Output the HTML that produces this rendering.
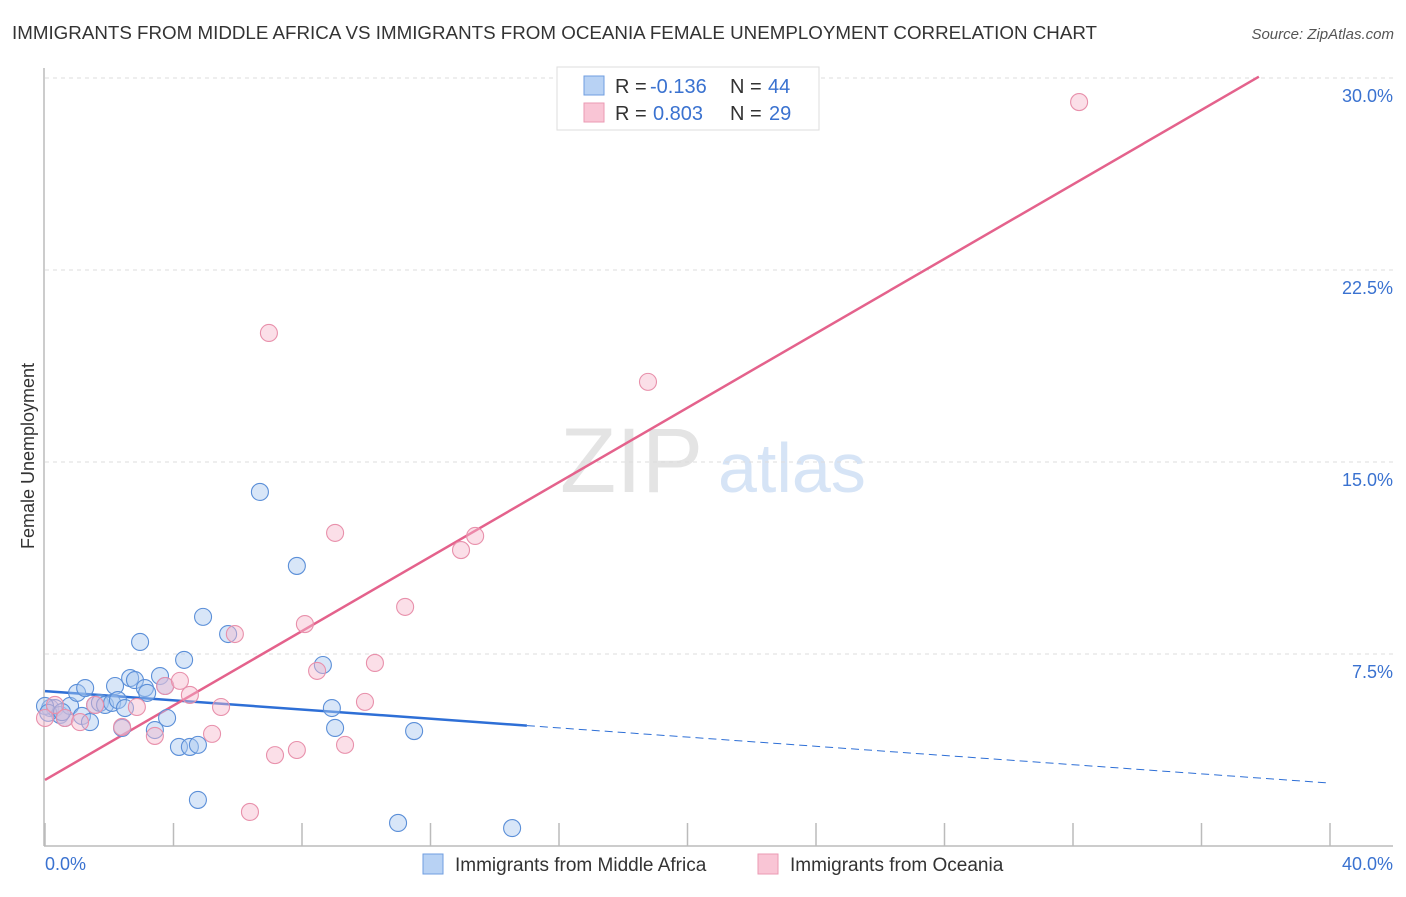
<!DOCTYPE html>
<html><head><meta charset="utf-8"><style>
body{margin:0;background:#fff;font-family:"Liberation Sans",sans-serif;}
svg text{font-family:"Liberation Sans",sans-serif;}
</style></head><body>
<svg id="chart" width="1406" height="892">
<text x="12" y="39" font-size="18" fill="#333" textLength="1085" lengthAdjust="spacingAndGlyphs">IMMIGRANTS FROM MIDDLE AFRICA VS IMMIGRANTS FROM OCEANIA FEMALE UNEMPLOYMENT CORRELATION CHART</text>
<text x="1394" y="39" font-size="15" fill="#555" font-style="italic" text-anchor="end">Source: ZipAtlas.com</text>
<text x="560" y="492" font-size="92" font-family="Liberation Serif" fill="#e4e4e4">ZIP</text>
<text x="718" y="492" font-size="70" fill="#d6e4f6">atlas</text>
<g id="grid"></g><g id="axes"></g><g id="lines"></g><g id="pts"></g>
<text transform="translate(34,456) rotate(-90)" font-size="18" fill="#333" text-anchor="middle">Female Unemployment</text>
<text x="45" y="870" font-size="18" fill="#3a72d0">0.0%</text>
<text x="1393" y="870" font-size="18" fill="#3a72d0" text-anchor="end">40.0%</text>
<g>
<rect x="557" y="67" width="262" height="63" fill="#fff" stroke="#ddd"/>
<rect x="584" y="76" width="20" height="19" fill="#b8d2f4" stroke="#6f9ee0"/>
<rect x="584" y="103" width="20" height="19" fill="#f9c5d5" stroke="#eb9ab3"/>
<text x="615" y="93" font-size="20" fill="#333">R =</text>
<text x="650" y="93" font-size="20" fill="#3a72d0">-0.136</text>
<text x="730" y="93" font-size="20" fill="#333">N =</text>
<text x="768" y="93" font-size="20" fill="#3a72d0">44</text>
<text x="615" y="120" font-size="20" fill="#333">R =</text>
<text x="653" y="120" font-size="20" fill="#3a72d0">0.803</text>
<text x="730" y="120" font-size="20" fill="#333">N =</text>
<text x="769" y="120" font-size="20" fill="#3a72d0">29</text>
</g>
<g>
<rect x="423" y="854" width="20" height="20" fill="#b8d2f4" stroke="#6f9ee0"/>
<text x="455" y="871" font-size="19" fill="#333">Immigrants from Middle Africa</text>
<rect x="758" y="854" width="20" height="20" fill="#f9c5d5" stroke="#eb9ab3"/>
<text x="790" y="871" font-size="19" fill="#333">Immigrants from Oceania</text>
</g>
</svg>
<script>
const yTicks=[7.5,15,22.5,30];
const yTickLabels=["7.5%","15.0%","22.5%","30.0%"];
const xTicks=[0,4,8,12,16,20,24,28,32,36,40];
const blueX=[0.16,0.31,0.47,0.62,0.78,1.0,1.15,1.25,1.4,1.56,1.71,1.87,2.09,2.18,2.27,2.40,2.49,2.65,2.80,2.96,3.11,3.18,3.42,3.58,3.74,3.80,4.17,4.33,4.51,4.76,4.76,4.92,5.70,6.69,7.84,8.65,8.93,9.03,10.99,11.49,14.54,0.0,0.1,0.53];
const blueY=[5.39,5.39,5.12,5.0,5.47,5.98,5.08,6.17,4.84,5.51,5.59,5.51,5.59,6.25,5.70,4.61,5.39,6.56,6.48,7.97,6.17,5.98,4.53,6.64,6.25,5.0,3.87,7.27,3.87,3.95,1.80,8.95,8.28,13.83,10.94,7.07,5.39,4.61,0.90,4.49,0.70,5.47,5.2,5.23];
const pinkX=[0,0.31,0.62,1.09,1.56,2.4,2.86,3.42,3.74,4.2,4.51,5.2,5.48,5.91,6.97,7.16,7.84,8.09,8.47,9.03,9.34,9.96,10.27,11.21,12.95,13.39,18.77,32.19,6.38];
const pinkY=[5.0,5.51,5.0,4.84,5.51,4.65,5.43,4.3,6.25,6.45,5.9,4.38,5.43,8.28,20.04,3.55,3.75,8.67,6.84,12.23,3.95,5.63,7.15,9.34,11.56,12.11,18.13,29.06,1.33];
const blueFit=[6.05,-0.0898];
const pinkFit=[2.58,0.727];
const X=v=>45+v*32.125, Y=v=>846-v*25.6;
const NS="http://www.w3.org/2000/svg";
function mk(parent,tag,attrs){const e=document.createElementNS(NS,tag);for(const k in attrs)e.setAttribute(k,attrs[k]);document.getElementById(parent).appendChild(e);return e;}
yTicks.forEach((t,i)=>{
 const g=mk('grid','line',{x1:45,x2:1393,y1:Y(t),y2:Y(t),stroke:'#ddd','stroke-dasharray':'4,4'});
 
 
 const l=mk('grid','text',{x:1393,y:Y(t)+24,'font-size':18,fill:'#3a72d0','text-anchor':'end'});
 l.textContent=yTickLabels[i];
 
 
});
let a=mk('axes','line',{x1:44,x2:44,y1:68,y2:846,stroke:'#bbb','stroke-width':1.5});


a=mk('axes','line',{x1:44,x2:1393,y1:846,y2:846,stroke:'#bbb','stroke-width':1.5});


xTicks.forEach(t=>{const e=mk('axes','line',{x1:X(t),x2:X(t),y1:823,y2:846,stroke:'#bbb','stroke-width':1.5});
 
 });
function dot(x,y,fill,stroke,name){const c=mk('pts','circle',{cx:X(x),cy:Y(y),r:8.5,fill:fill,'fill-opacity':0.45,stroke:stroke,'stroke-width':1.1});
 
 }
blueX.forEach((x,i)=>dot(x,blueY[i],'#a8c8f0','#5b8fd8','middle-africa-point'));
pinkX.forEach((x,i)=>dot(x,pinkY[i],'#f6b8cb','#e890ab','oceania-point'));
let l=mk('lines','line',{x1:X(0),y1:Y(blueFit[0]),x2:X(15),y2:Y(blueFit[0]+blueFit[1]*15),stroke:'#2e6fd6','stroke-width':2.5});


l=mk('lines','line',{x1:X(15),y1:Y(blueFit[0]+blueFit[1]*15),x2:X(40),y2:Y(blueFit[0]+blueFit[1]*40),stroke:'#2e6fd6','stroke-width':1,'stroke-dasharray':'8,5'});


const xe=(30.05-pinkFit[0])/pinkFit[1];
l=mk('lines','line',{x1:X(0),y1:Y(pinkFit[0]),x2:X(xe),y2:Y(pinkFit[0]+pinkFit[1]*xe),stroke:'#e4628c','stroke-width':2.5});


</script>
</body></html>
